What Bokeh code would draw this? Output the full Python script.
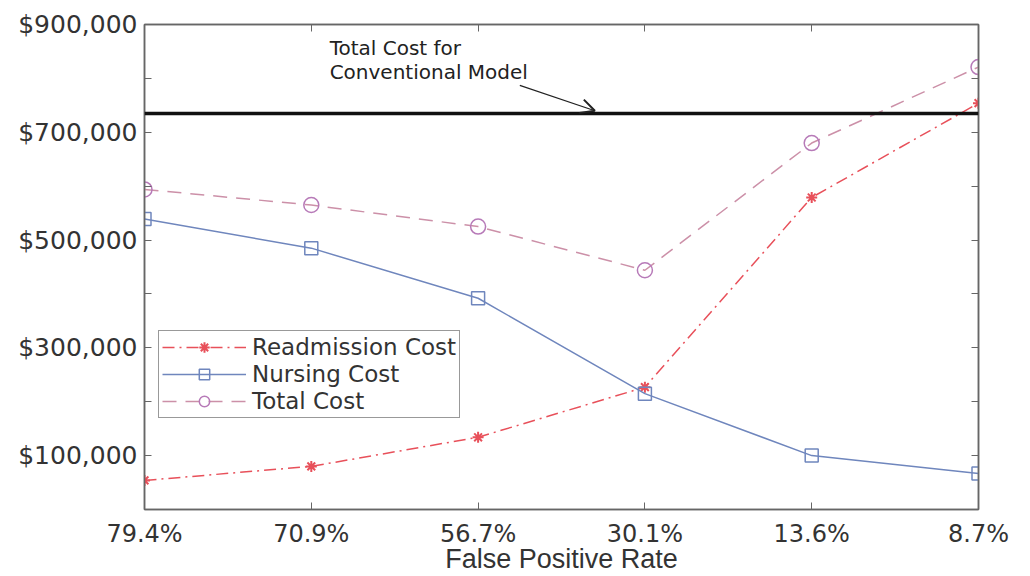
from bokeh.plotting import figure
from bokeh.models import (FixedTicker, LinearAxis, Legend, LegendItem, Label, Arrow,
                          OpenHead, Span, ColumnDataSource)
from bokeh.embed import file_html
from bokeh.resources import INLINE

categories = ["79.4%", "70.9%", "56.7%", "30.1%", "13.6%", "8.7%"]
readmission = [54000, 80000, 134000, 227000, 579000, 754000]
nursing = [539000, 485000, 392000, 215000, 100000, 67000]
total = [594000, 565000, 525000, 444000, 680000, 821000]
conventional_total = 735000
y_labeled = [100000, 300000, 500000, 700000, 900000]
y_minor = [200000, 400000, 600000, 800000]
y_labels = ["$100,000", "$300,000", "$500,000", "$700,000", "$900,000"]
x_title = "False Positive Rate"

xs = list(range(len(categories)))

p = figure(width=1022, height=576, output_backend="svg", toolbar_location=None,
           x_range=(0, len(categories) - 1), y_range=(0, 900000),
           min_border_left=144, min_border_top=24, min_border_right=44, min_border_bottom=67)
p.background_fill_color = "white"
p.border_fill_color = "white"
p.outline_line_color = "#666666"
p.outline_line_width = 1.5
p.xgrid.visible = False
p.ygrid.visible = False

font = "DejaVu Sans"
axcol = "#666666"

def style_axis(ax, labels=True, size="24px"):
    ax.axis_line_color = axcol
    ax.axis_line_width = 1.5
    ax.major_tick_line_color = axcol
    ax.minor_tick_line_color = axcol
    ax.major_tick_in = 7
    ax.major_tick_out = 0
    ax.minor_tick_in = 7
    ax.minor_tick_out = 0
    ax.major_label_text_font = font
    ax.major_label_text_font_size = size
    ax.major_label_text_color = "#333333"
    if not labels:
        ax.major_label_text_font_size = "0px"

# x axes
p.xaxis.ticker = FixedTicker(ticks=xs)
p.xaxis.major_label_overrides = {i: c for i, c in enumerate(categories)}
style_axis(p.xaxis[0], size="24px")
p.xaxis.major_label_standoff = 10
p.xaxis.axis_label = x_title
p.xaxis.axis_label_text_font = "Liberation Sans"
p.xaxis.axis_label_text_font_style = "normal"
p.xaxis.axis_label_text_font_size = "27px"
p.xaxis.axis_label_text_color = "#333333"
p.xaxis.axis_label_standoff = -7

top = LinearAxis(ticker=FixedTicker(ticks=xs))
style_axis(top, labels=False)
p.add_layout(top, "above")

# y axes
p.yaxis.ticker = FixedTicker(ticks=y_labeled, minor_ticks=y_minor)
p.yaxis.major_label_overrides = {v: l for v, l in zip(y_labeled, y_labels)}
style_axis(p.yaxis[0], size="25px")
p.yaxis.major_label_standoff = 7

right = LinearAxis(ticker=FixedTicker(ticks=y_labeled, minor_ticks=y_minor))
style_axis(right, labels=False)
p.add_layout(right, "right")

# conventional model line
p.add_layout(Span(location=conventional_total, dimension="width",
                  line_color="#111111", line_width=3.5))

red = "#e8505a"
blue = "#6f86bd"
purple_line = "#cc90a8"
purple_mark = "#b77ab8"

src = ColumnDataSource(dict(x=xs, r=readmission, n=nursing, t=total))

r_line = p.line("x", "r", source=src, line_color=red, line_width=1.5, line_dash="12 5 2 5")
r_mark = p.scatter("x", "r", source=src, marker="asterisk", size=11, line_color=red, line_width=2)
n_line = p.line("x", "n", source=src, line_color=blue, line_width=1.5)
n_mark = p.scatter("x", "n", source=src, marker="square", size=13, line_color=blue,
                   fill_color=None, line_width=1.5)
t_line = p.line("x", "t", source=src, line_color=purple_line, line_width=1.5, line_dash="14 9")
t_mark = p.scatter("x", "t", source=src, marker="circle", size=15, line_color=purple_mark,
                   fill_color=None, line_width=1.5)

legend = Legend(items=[
    LegendItem(label="Readmission Cost", renderers=[r_line, r_mark]),
    LegendItem(label="Nursing Cost", renderers=[n_line, n_mark]),
    LegendItem(label="Total Cost", renderers=[t_line, t_mark]),
], location=(14, 91))
legend.label_text_font = font
legend.label_text_font_size = "23px"
legend.label_text_color = "#333333"
legend.border_line_color = "#333333"
legend.border_line_width = 1.5
legend.glyph_width = 84
legend.glyph_height = 26
legend.label_height = 26
legend.spacing = 1
legend.padding = 3
legend.margin = 0
legend.label_standoff = 6
p.add_layout(legend, "center")

# annotation
p.add_layout(Label(x=1.11, y=857000, text="Total Cost for", text_font=font,
                   text_font_size="20px", text_color="#222222", text_baseline="middle"))
p.add_layout(Label(x=1.11, y=811000, text="Conventional Model", text_font=font,
                   text_font_size="20px", text_color="#222222", text_baseline="middle"))
p.add_layout(Arrow(x_start=2.25, y_start=787000, x_end=2.70, y_end=740000,
                   line_color="#222222", line_width=1.2,
                   end=OpenHead(size=14, line_color="#222222", line_width=2)))

open("out.html", "w").write(file_html(p, INLINE))
